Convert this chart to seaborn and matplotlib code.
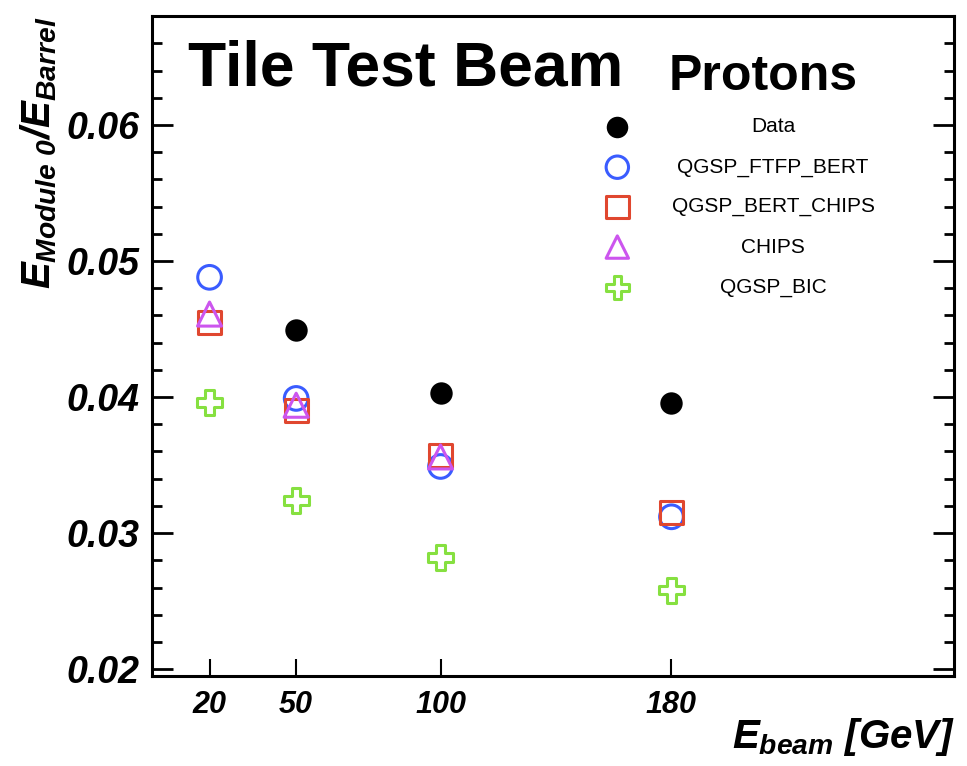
import matplotlib
matplotlib.use("Agg")
import matplotlib.pyplot as plt
import seaborn as sns

# ---- values ----
energies = [20, 50, 100, 180]
data_x = [50, 100, 180]
data_y = [0.0449, 0.0403, 0.0396]
ftfp_y = [0.0488, 0.0399, 0.0349, 0.0312]
bert_chips_y = [0.0455, 0.0390, 0.0357, 0.0315]
chips_x = [20, 50, 100]
chips_y = [0.0461, 0.0394, 0.0356]
bic_y = [0.0396, 0.0324, 0.0282, 0.0258]

labels = ["Data", "QGSP_FTFP_BERT", "QGSP_BERT_CHIPS", "CHIPS", "QGSP_BIC"]
colors = ["black", "#3a5cff", "#e0472f", "#cc55ee", "#86e040"]
markers = ["o", "o", "s", "^", "P"]

sns.set_style("ticks")
plt.rcParams["font.family"] = ["Liberation Sans", "DejaVu Sans"]
plt.rcParams["text.color"] = "black"
plt.rcParams["xtick.color"] = "black"
plt.rcParams["ytick.color"] = "black"
plt.rcParams["mathtext.fontset"] = "custom"
plt.rcParams["mathtext.rm"] = "Liberation Sans:bold:italic"
plt.rcParams["mathtext.it"] = "Liberation Sans:bold:italic"
plt.rcParams["mathtext.bf"] = "Liberation Sans:bold:italic"

fig = plt.figure(figsize=(9.67, 7.66), dpi=100)
ax = fig.add_axes([0.157, 0.1175, 0.830, 0.8615])

# model curves (hollow markers) then data on top
sns.scatterplot(x=energies, y=ftfp_y, marker="o", s=290, facecolor="none",
                edgecolor=colors[1], linewidth=2.2, ax=ax)
sns.scatterplot(x=energies, y=bert_chips_y, marker="s", s=280, facecolor="none",
                edgecolor=colors[2], linewidth=2.2, ax=ax)
sns.scatterplot(x=chips_x, y=chips_y, marker="^", s=300, facecolor="none",
                edgecolor=colors[3], linewidth=2.2, ax=ax)
sns.scatterplot(x=energies, y=bic_y, marker="P", s=330, facecolor="none",
                edgecolor=colors[4], linewidth=2.2, ax=ax)
sns.scatterplot(x=data_x, y=data_y, marker="o", s=260, color=colors[0],
                edgecolor="black", linewidth=0, ax=ax)

ax.set_xlim(0, 278)
ax.set_ylim(0.0195, 0.0678)
ax.set_xticks(energies)
ax.set_xticklabels([str(e) for e in energies])
ax.set_yticks([0.02, 0.03, 0.04, 0.05, 0.06])
ax.set_yticklabels(["0.02", "0.03", "0.04", "0.05", "0.06"])
ax.set_yticks([0.02 + 0.002 * i for i in range(25)
               if i % 5 != 0], minor=True)

for sp in ax.spines.values():
    sp.set_visible(True)
    sp.set_linewidth(2.2)
    sp.set_color("black")

ax.tick_params(axis="y", which="major", direction="in", length=15, width=2,
               right=True, left=True, pad=9)
ax.tick_params(axis="y", which="minor", direction="in", length=7.5, width=2,
               right=True, left=True)
ax.tick_params(axis="x", which="major", direction="in", length=12, width=1.5,
               top=False, pad=10)
for t in ax.get_yticklabels():
    t.set_fontsize(27)
    t.set_fontweight("bold")
    t.set_fontstyle("italic")
for t in ax.get_xticklabels():
    t.set_fontsize(22)
    t.set_fontweight("bold")
    t.set_fontstyle("italic")

ax.set_xlabel("")
ax.set_ylabel("")
fig.text(0.988, 0.010, r"$E_{beam}$ [GeV]", ha="right", va="bottom",
         fontsize=29, fontweight="bold", fontstyle="italic")
fig.text(0.040, 0.800, r"$E_{Module\ 0}/E_{Barrel}$", rotation=90,
         ha="center", va="center", fontsize=29)

ax.text(0.316, 0.895, "Tile Test Beam", transform=ax.transAxes,
        ha="center", va="baseline", fontsize=45, fontweight="bold")
ax.text(0.762, 0.888, "Protons", transform=ax.transAxes,
        ha="center", va="baseline", fontsize=36, fontweight="bold")

# legend drawn by hand: markers left, labels centred
leg_y = [0.832, 0.771, 0.711, 0.650, 0.589]
for lab, col, mk, yy in zip(labels, colors, markers, leg_y):
    if lab == "Data":
        ax.scatter([0.58], [yy], transform=ax.transAxes, marker=mk, s=240,
                   color=col, linewidth=0, clip_on=False)
    else:
        ax.scatter([0.58], [yy], transform=ax.transAxes, marker=mk, s=260,
                   facecolor="none", edgecolor=col, linewidth=2.2, clip_on=False)
    ax.text(0.774, yy, lab, transform=ax.transAxes, ha="center", va="center",
            fontsize=15)

fig.savefig("out.png", dpi=100)
